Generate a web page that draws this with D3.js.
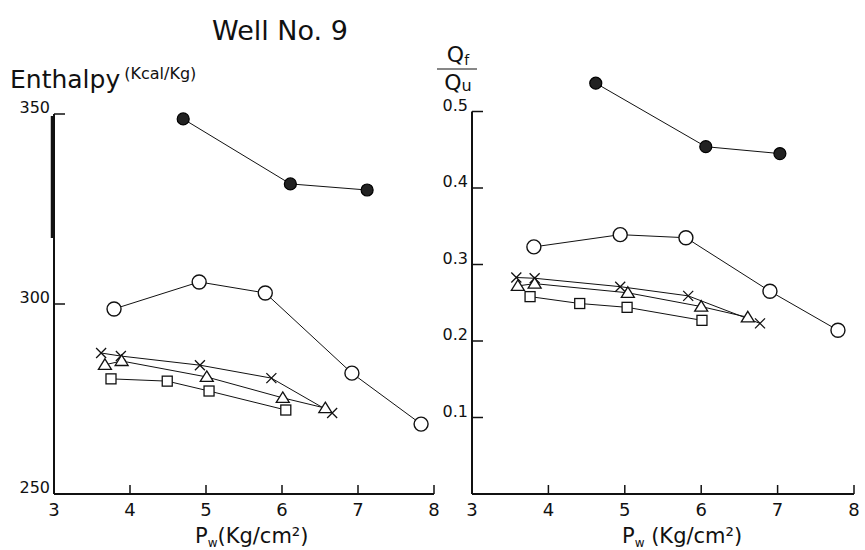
<!DOCTYPE html>
<html>
<head>
<meta charset="utf-8">
<script src="https://cdn.jsdelivr.net/npm/d3@7"></script>
<style>
  body { margin: 0; background: #fff; }
  text { font-family: 'DejaVu Sans', sans-serif; fill: #111; }
</style>
</head>
<body>
<svg id="chart" width="865" height="550"></svg>
<script>
// series names (legend of the original figure)
const seriesNames = ['28 May 1965', '5 July 1965', '4 Oct. 1965', '10 Dec. 1965', '13 Mar. 1966'];
const seriesShapes = ['dot', 'circle', 'cross', 'triangle', 'square'];

// left panel: enthalpy (kcal/kg) vs Pw
const enthalpyX = [
  [4.70, 6.11, 7.12],
  [3.79, 4.91, 5.78, 6.92, 7.83],
  [3.62, 3.88, 4.92, 5.86, 6.66],
  [3.67, 3.89, 5.01, 6.01, 6.57],
  [3.75, 4.49, 5.04, 6.05]
];
const enthalpyY = [
  [348.7, 331.6, 330.0],
  [298.7, 305.8, 302.9, 281.8, 268.4],
  [287.1, 286.3, 283.9, 280.5, 271.3],
  [284.0, 285.0, 280.8, 275.3, 272.6],
  [280.3, 279.7, 277.1, 272.1]
];

// right panel: Qf/Qu vs Pw
const ratioX = [
  [4.62, 6.06, 7.03],
  [3.81, 4.94, 5.80, 6.90, 7.79],
  [3.58, 3.82, 4.94, 5.83, 6.77],
  [3.60, 3.82, 5.04, 6.00, 6.61],
  [3.76, 4.41, 5.03, 6.01]
];
const ratioY = [
  [0.537, 0.454, 0.445],
  [0.323, 0.339, 0.335, 0.265, 0.214],
  [0.283, 0.282, 0.271, 0.259, 0.223],
  [0.272, 0.275, 0.263, 0.245, 0.231],
  [0.258, 0.249, 0.244, 0.227]
];

const xTicks = [3, 4, 5, 6, 7, 8];
const enthalpyTicks = [250, 300, 350];
const ratioTicks = [0.1, 0.2, 0.3, 0.4, 0.5];

const svg = d3.select('#chart');

function drawMarker(g, shape, cx, cy) {
  if (shape === 'dot') {
    g.append('circle').attr('cx', cx).attr('cy', cy).attr('r', 6)
      .attr('fill', '#222').attr('stroke', '#000').attr('stroke-width', 1.2);
  } else if (shape === 'circle') {
    g.append('circle').attr('cx', cx).attr('cy', cy).attr('r', 7)
      .attr('fill', '#fff').attr('stroke', '#111').attr('stroke-width', 1.4);
  } else if (shape === 'cross') {
    g.append('path')
      .attr('d', `M${cx - 5},${cy - 5}L${cx + 5},${cy + 5}M${cx - 5},${cy + 5}L${cx + 5},${cy - 5}`)
      .attr('stroke', '#111').attr('stroke-width', 1.3);
  } else if (shape === 'triangle') {
    g.append('path')
      .attr('d', `M${cx},${cy - 6}L${cx + 6.5},${cy + 4.5}L${cx - 6.5},${cy + 4.5}Z`)
      .attr('fill', '#fff').attr('stroke', '#111').attr('stroke-width', 1.3);
  } else {
    g.append('rect').attr('x', cx - 5).attr('y', cy - 5).attr('width', 10).attr('height', 10)
      .attr('fill', '#fff').attr('stroke', '#111').attr('stroke-width', 1.3);
  }
}

function panel(cfg) {
  const x = d3.scaleLinear().domain([3, 8]).range([cfg.left, cfg.right]);
  const y = d3.scaleLinear().domain(cfg.yDomain).range([494, cfg.top]);
  const g = svg.append('g');

  // x axis: ticks pointing up
  g.append('line').attr('x1', x(3)).attr('x2', x(8)).attr('y1', 494).attr('y2', 494)
    .attr('stroke', '#111').attr('stroke-width', 2);
  xTicks.forEach(t => {
    if (t > 3) g.append('line').attr('x1', x(t)).attr('x2', x(t)).attr('y1', 494).attr('y2', 485)
      .attr('stroke', '#111').attr('stroke-width', 1.5);
    g.append('text').attr('x', x(t)).attr('y', 516).attr('text-anchor', 'middle')
      .style('font-size', '18px').text(t);
  });

  // y axis: ticks pointing right
  g.append('line').attr('x1', x(3)).attr('x2', x(3)).attr('y1', 494).attr('y2', y(cfg.yDomain[1]))
    .attr('stroke', '#111').attr('stroke-width', 2);
  cfg.yTicks.forEach(t => {
    g.append('line').attr('x1', x(3)).attr('x2', x(3) + 11).attr('y1', y(t)).attr('y2', y(t))
      .attr('stroke', '#111').attr('stroke-width', 1.5);
    g.append('text').attr('x', x(3) - 4).attr('y', y(t) - 1).attr('text-anchor', 'end')
      .style('font-size', '16px').text(cfg.fmt(t));
  });

  // series
  cfg.xs.forEach((xs, i) => {
    const pts = xs.map((v, j) => [x(v), y(cfg.ys[i][j])]);
    g.append('path').attr('d', d3.line()(pts))
      .attr('fill', 'none').attr('stroke', '#111').attr('stroke-width', 1);
    pts.forEach(p => drawMarker(g, seriesShapes[i], p[0], p[1]));
  });

  // x axis title
  const t = g.append('text').attr('x', cfg.pwX).attr('y', 543).style('font-size', '21px');
  t.append('tspan').text('P');
  t.append('tspan').attr('dy', 4).style('font-size', '12px').text('w');
  t.append('tspan').attr('dy', -4).text(cfg.pwGap + '(Kg/cm²)');
  return { x, y, g };
}

const left = panel({
  left: 54, right: 434, top: 114, yDomain: [250, 350], yTicks: enthalpyTicks,
  xs: enthalpyX, ys: enthalpyY, fmt: d => d, pwX: 195, pwGap: ''
});
// heavy ink on the upper part of the left axis
left.g.append('line').attr('x1', 52.5).attr('x2', 52.5).attr('y1', 116).attr('y2', 238)
  .attr('stroke', '#111').attr('stroke-width', 3.5);

panel({
  left: 472, right: 854, top: 111.5, yDomain: [0, 0.5], yTicks: ratioTicks,
  xs: ratioX, ys: ratioY, fmt: d => d.toFixed(1), pwX: 622, pwGap: ' '
});

// titles
svg.append('text').attr('x', 280).attr('y', 40).attr('text-anchor', 'middle')
  .style('font-size', '27px').text('Well No. 9');

const ent = svg.append('text').attr('x', 10).attr('y', 88).style('font-size', '25px');
ent.append('tspan').text('Enthalpy');
ent.append('tspan').attr('dx', 4).attr('dy', -9).style('font-size', '16px').text('(Kcal/Kg)');

svg.append('text').attr('x', 458).attr('y', 62).attr('text-anchor', 'middle')
  .style('font-size', '22px')
  .html('Q<tspan dy="3" style="font-size:14px">f</tspan>');
svg.append('line').attr('x1', 437).attr('x2', 477).attr('y1', 69).attr('y2', 69)
  .attr('stroke', '#111').attr('stroke-width', 1.2);
svg.append('text').attr('x', 458).attr('y', 90).attr('text-anchor', 'middle')
  .style('font-size', '22px')
  .html('Q<tspan dy="1" style="font-size:16px">u</tspan>');
</script>
</body>
</html>
